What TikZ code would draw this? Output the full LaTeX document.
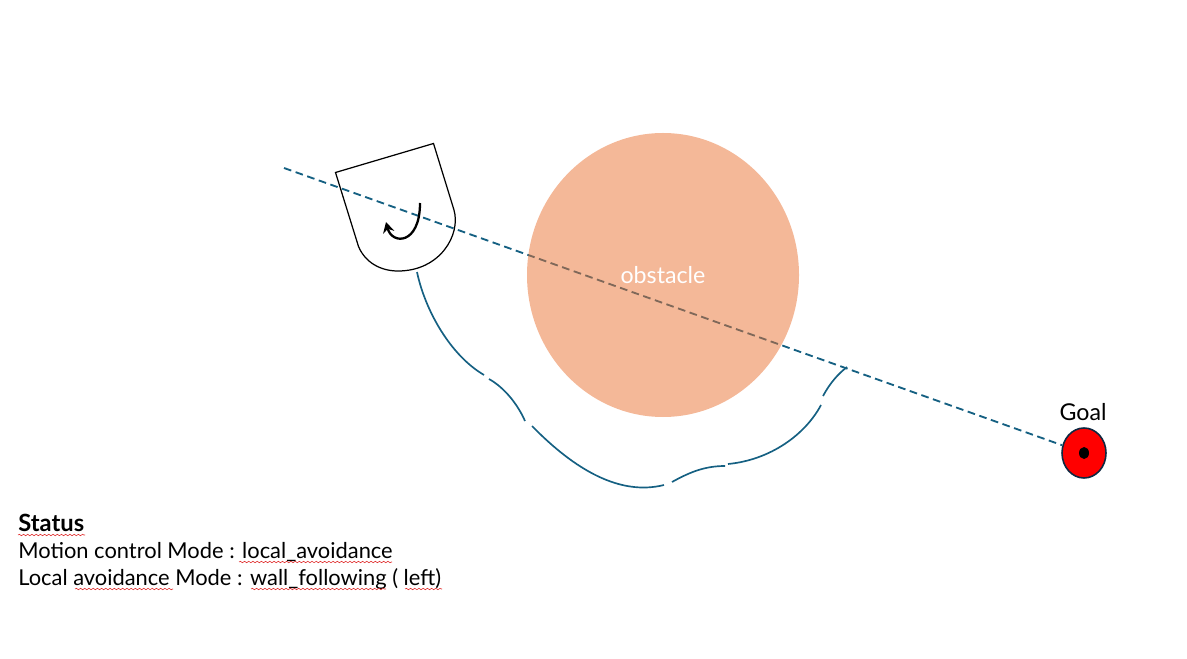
\documentclass[tikz,border=0pt]{standalone}
\usepackage{fontspec}
\setmainfont{Lato}
\definecolor{wfLine}{HTML}{156082}
\definecolor{wfObstacle}{HTML}{E97132}
\definecolor{wfGoal}{HTML}{FF0000}
\definecolor{wfGoalEdge}{HTML}{0E2841}
\definecolor{wfSquiggle}{HTML}{E03030}
\usetikzlibrary{calc,positioning,arrows.meta,shapes.geometric,decorations.pathmorphing}
\tikzset{
  statusText/.style={anchor=base west, text=black, font=\fontsize{12.45pt}{15pt}\selectfont, inner sep=0pt},
  wallPath/.style={draw=wfLine, line width=0.95pt},
  squiggle/.style={draw=wfSquiggle, line width=0.35pt, decorate, decoration={snake, amplitude=0.4pt, segment length=2.4pt}}
}
\begin{document}
\begin{tikzpicture}
  \useasboundingbox (0,0) rectangle (23.74,13.16);

  % Goal
  \node[ellipse, draw=wfGoalEdge, line width=0.9pt, fill=wfGoal, minimum width=0.88cm, minimum height=1.0cm, inner sep=0pt] (goal) at (21.68,4.10) {};
  \fill[black] (goal.center) ellipse (0.10 and 0.12);
  \node[text=black, font=\fontsize{13.2pt}{15pt}\selectfont] (goalLabel) at (21.66,4.92) {Goal};

  % Heading line
  \coordinate (lineStart) at (5.68,9.80);
  \draw[wfLine, line width=1.05pt, dash pattern=on 4.4pt off 2.6pt] (lineStart) -- (goal);

  % Obstacle
  \node[ellipse, fill=wfObstacle, fill opacity=0.5, text opacity=1, text=white, font=\fontsize{13.2pt}{15pt}\selectfont, minimum width=5.44cm, minimum height=5.68cm, inner sep=0pt] (obstacle) at (13.26,7.66) {obstacle};

  % Robot
  \draw[black, line width=0.7pt] (6.71,9.71) -- (8.67,10.29) -- (9.08,8.96)
    .. controls (9.22,8.46) and (8.80,7.74) .. (7.96,7.74)
    .. controls (7.60,7.74) and (7.30,7.92) .. (7.17,8.23) -- cycle;
  \draw[black, line width=1.3pt, -{Stealth[length=6pt,width=6.5pt]}] (8.40,9.10)
    .. controls (8.40,8.26) and (7.84,8.26) .. (7.72,8.72);

  % Wall following path
  \draw[wallPath] (8.34,7.72) .. controls (8.50,6.96) and (9.00,6.06) .. (9.68,5.66);
  \draw[wallPath] (9.78,5.58) .. controls (10.10,5.40) and (10.36,5.06) .. (10.50,4.74);
  \draw[wallPath] (10.64,4.64) .. controls (11.50,3.76) and (12.40,3.24) .. (13.28,3.46);
  \draw[wallPath] (13.44,3.52) .. controls (13.80,3.72) and (14.10,3.84) .. (14.50,3.84);
  \draw[wallPath] (14.56,3.88) .. controls (15.40,3.96) and (16.10,4.46) .. (16.42,5.06);
  \draw[wallPath] (16.46,5.24) .. controls (16.60,5.50) and (16.76,5.68) .. (16.94,5.82);

  % Status
  \node[statusText, font=\fontsize{13.5pt}{15pt}\selectfont\bfseries] (statusTitle) at (0.36,2.53) {Status};
  \node[statusText] (statusMotion) at (0.36,1.99) {Motion control Mode : local\_avoidance};
  \node[statusText] (statusLocal) at (0.36,1.45) {Local avoidance Mode : wall\_following ( left)};

  % Spell check marks
  \draw[squiggle] (0.36,2.46) -- (1.70,2.46);
  \draw[squiggle] (4.78,1.92) -- (7.84,1.92);
  \draw[squiggle] (1.50,1.38) -- (3.46,1.38);
  \draw[squiggle] (5.02,1.38) -- (7.72,1.38);
  \draw[squiggle] (8.10,1.38) -- (8.84,1.38);
\end{tikzpicture}
\end{document}
